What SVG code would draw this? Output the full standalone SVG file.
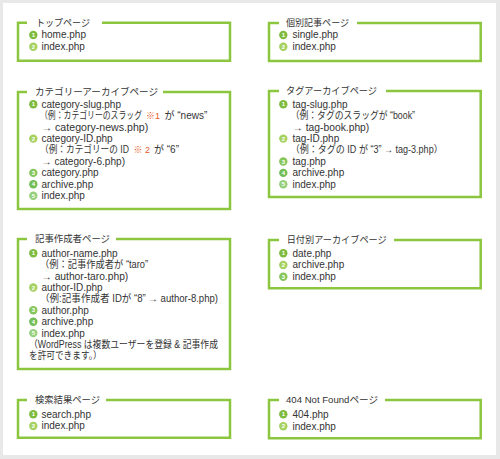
<svg xmlns="http://www.w3.org/2000/svg" width="500" height="459" viewBox="0 0 500 459">
<style>
.box{fill:none;stroke:#8cc63f;stroke-width:2.5}
.lbl{font-family:"Liberation Sans","Noto Sans CJK JP",sans-serif;font-size:9.5px;fill:#333}
.t{font-family:"Liberation Sans","Noto Sans CJK JP",sans-serif;font-size:10px;fill:#333}
.red{fill:#e55a2b;font-size:9px}
.n{font-family:"Liberation Sans",sans-serif;font-size:6px;font-weight:bold;fill:#fff;text-anchor:middle}
.b1{fill:#7fbb3e}.b2{fill:#a5d160}.b3{fill:#86c65a}.b4{fill:#72bd55}.b5{fill:#96d07c}
</style>
<defs>
<g id="c1"><circle r="4.2" class="b1"/><text class="n" y="2.1">1</text></g>
<g id="c2"><circle r="4.2" class="b2"/><text class="n" y="2.1">2</text></g>
<g id="c3"><circle r="4.2" class="b3"/><text class="n" y="2.1">3</text></g>
<g id="c4"><circle r="4.2" class="b4"/><text class="n" y="2.1">4</text></g>
<g id="c5"><circle r="4.2" class="b5"/><text class="n" y="2.1">5</text></g>
</defs>
<rect x="0" y="0" width="500" height="459" fill="#e8e8e8"/>
<rect x="3" y="3" width="493" height="452" fill="#ffffff"/>

<g id="top">
<path class="box" d="M102,22.7 H230 V60.7 H18 V22.7 H27"/>
<text class="lbl" x="36" y="26" textLength="54" lengthAdjust="spacingAndGlyphs">トップページ</text>
<use href="#c1" x="33.3" y="35"/><text class="t" x="41.5" y="38.4">home.php</text>
<use href="#c2" x="33.3" y="46.7"/><text class="t" x="41.5" y="50.1">index.php</text>
</g>

<g id="single">
<path class="box" d="M357,23 H480.7 V61 H269 V23 H279"/>
<text class="lbl" x="286" y="26.3" textLength="63" lengthAdjust="spacingAndGlyphs">個別記事ページ</text>
<use href="#c1" x="283.3" y="35"/><text class="t" x="292.5" y="38.4">single.php</text>
<use href="#c2" x="283.3" y="46.7"/><text class="t" x="292.5" y="50.1">index.php</text>
</g>

<g id="category">
<path class="box" d="M163,92 H230 V209 H18 V92 H27"/>
<text class="lbl" x="35" y="95.3" textLength="123" lengthAdjust="spacingAndGlyphs">カテゴリーアーカイブページ</text>
<use href="#c1" x="33.3" y="104.3"/><text class="t" x="41.5" y="107.7">category-slug.php</text>
<text class="t" x="40" y="119.1" textLength="102" lengthAdjust="spacingAndGlyphs">（例：カテゴリーのスラッグ</text>
<text class="t red" x="146" y="119.1">※1</text>
<text class="t" x="164.5" y="119.1">が “news”</text>
<text class="t" x="41.5" y="130.5" textLength="106.8" lengthAdjust="spacingAndGlyphs">→ category-news.php)</text>
<use href="#c2" x="33.3" y="138.6"/><text class="t" x="41.5" y="142">category-ID.php</text>
<text class="t" x="40" y="153.4" textLength="89" lengthAdjust="spacingAndGlyphs">（例：カテゴリーの ID</text>
<text class="t red" x="133.5" y="153.4">※ 2</text>
<text class="t" x="154" y="153.4">が “6”</text>
<text class="t" x="41.5" y="164.8" textLength="83.5" lengthAdjust="spacingAndGlyphs">→ category-6.php)</text>
<use href="#c3" x="33.3" y="172.9"/><text class="t" x="41.5" y="176.3">category.php</text>
<use href="#c4" x="33.3" y="184.3"/><text class="t" x="41.5" y="187.7">archive.php</text>
<use href="#c5" x="33.3" y="195.7"/><text class="t" x="41.5" y="199.1">index.php</text>
</g>

<g id="tag">
<path class="box" d="M386,91 H480.7 V197 H269 V91 H279"/>
<text class="lbl" x="286" y="94.3" textLength="91" lengthAdjust="spacingAndGlyphs">タグアーカイブページ</text>
<use href="#c1" x="283.3" y="104.3"/><text class="t" x="292.5" y="107.7">tag-slug.php</text>
<text class="t" x="290.7" y="119.1" textLength="124.3" lengthAdjust="spacingAndGlyphs">（例：タグのスラッグが “book”</text>
<text class="t" x="292.5" y="130.5" textLength="76.8" lengthAdjust="spacingAndGlyphs">→ tag-book.php)</text>
<use href="#c2" x="283.3" y="138.6"/><text class="t" x="292.5" y="142">tag-ID.php</text>
<text class="t" x="290.7" y="153.4" textLength="152" lengthAdjust="spacingAndGlyphs">（例：タグの ID が “3” → tag-3.php）</text>
<use href="#c3" x="283.3" y="161.5"/><text class="t" x="292.5" y="164.9">tag.php</text>
<use href="#c4" x="283.3" y="172.9"/><text class="t" x="292.5" y="176.3">archive.php</text>
<use href="#c5" x="283.3" y="184.3"/><text class="t" x="292.5" y="187.7">index.php</text>
</g>

<g id="author">
<path class="box" d="M116,239 H230 V369 H18 V239 H27"/>
<text class="lbl" x="35" y="242.3" textLength="75" lengthAdjust="spacingAndGlyphs">記事作成者ページ</text>
<use href="#c1" x="33.3" y="253.3"/><text class="t" x="41.5" y="256.7">author-name.php</text>
<text class="t" x="40" y="268.1" textLength="108" lengthAdjust="spacingAndGlyphs">（例：記事作成者が “taro”</text>
<text class="t" x="41.5" y="279.5" textLength="86.8" lengthAdjust="spacingAndGlyphs">→ author-taro.php)</text>
<use href="#c2" x="33.3" y="287.5"/><text class="t" x="41.5" y="290.9">author-ID.php</text>
<text class="t" x="40" y="302.3" textLength="178" lengthAdjust="spacingAndGlyphs">（例:記事作成者 IDが “8” → author-8.php)</text>
<use href="#c3" x="33.3" y="310.3"/><text class="t" x="41.5" y="313.7">author.php</text>
<use href="#c4" x="33.3" y="321.7"/><text class="t" x="41.5" y="325.1">archive.php</text>
<use href="#c5" x="33.3" y="333.1"/><text class="t" x="41.5" y="336.5">index.php</text>
<text class="t" x="29" y="347.9" textLength="189" lengthAdjust="spacingAndGlyphs">（WordPress は複数ユーザーを登録 &amp; 記事作成</text>
<text class="t" x="29" y="359.3" textLength="72.7" lengthAdjust="spacingAndGlyphs">を許可できます。）</text>
</g>

<g id="date">
<path class="box" d="M394,240 H480.7 V288.3 H269 V240 H279"/>
<text class="lbl" x="286.7" y="243.3" textLength="100" lengthAdjust="spacingAndGlyphs">日付別アーカイブページ</text>
<use href="#c1" x="283.3" y="253.3"/><text class="t" x="292.5" y="256.7">date.php</text>
<use href="#c2" x="283.3" y="265"/><text class="t" x="292.5" y="268.4">archive.php</text>
<use href="#c3" x="283.3" y="276.7"/><text class="t" x="292.5" y="280.1">index.php</text>
</g>

<g id="search">
<path class="box" d="M106,400 H230 V437.7 H18 V400 H27"/>
<text class="lbl" x="35" y="403.3" textLength="65" lengthAdjust="spacingAndGlyphs">検索結果ページ</text>
<use href="#c1" x="33.3" y="414.3"/><text class="t" x="41.5" y="417.7">search.php</text>
<use href="#c2" x="33.3" y="426"/><text class="t" x="41.5" y="429.4">index.php</text>
</g>

<g id="notfound">
<path class="box" d="M385,400 H480.7 V438.3 H269 V400 H279"/>
<text class="lbl" x="286" y="403.3" textLength="92" lengthAdjust="spacingAndGlyphs">404 Not Foundページ</text>
<use href="#c1" x="283.3" y="414.3"/><text class="t" x="292.5" y="417.7">404.php</text>
<use href="#c2" x="283.3" y="426.3"/><text class="t" x="292.5" y="429.7">index.php</text>
</g>

<g id="connectors"/>
</svg>
